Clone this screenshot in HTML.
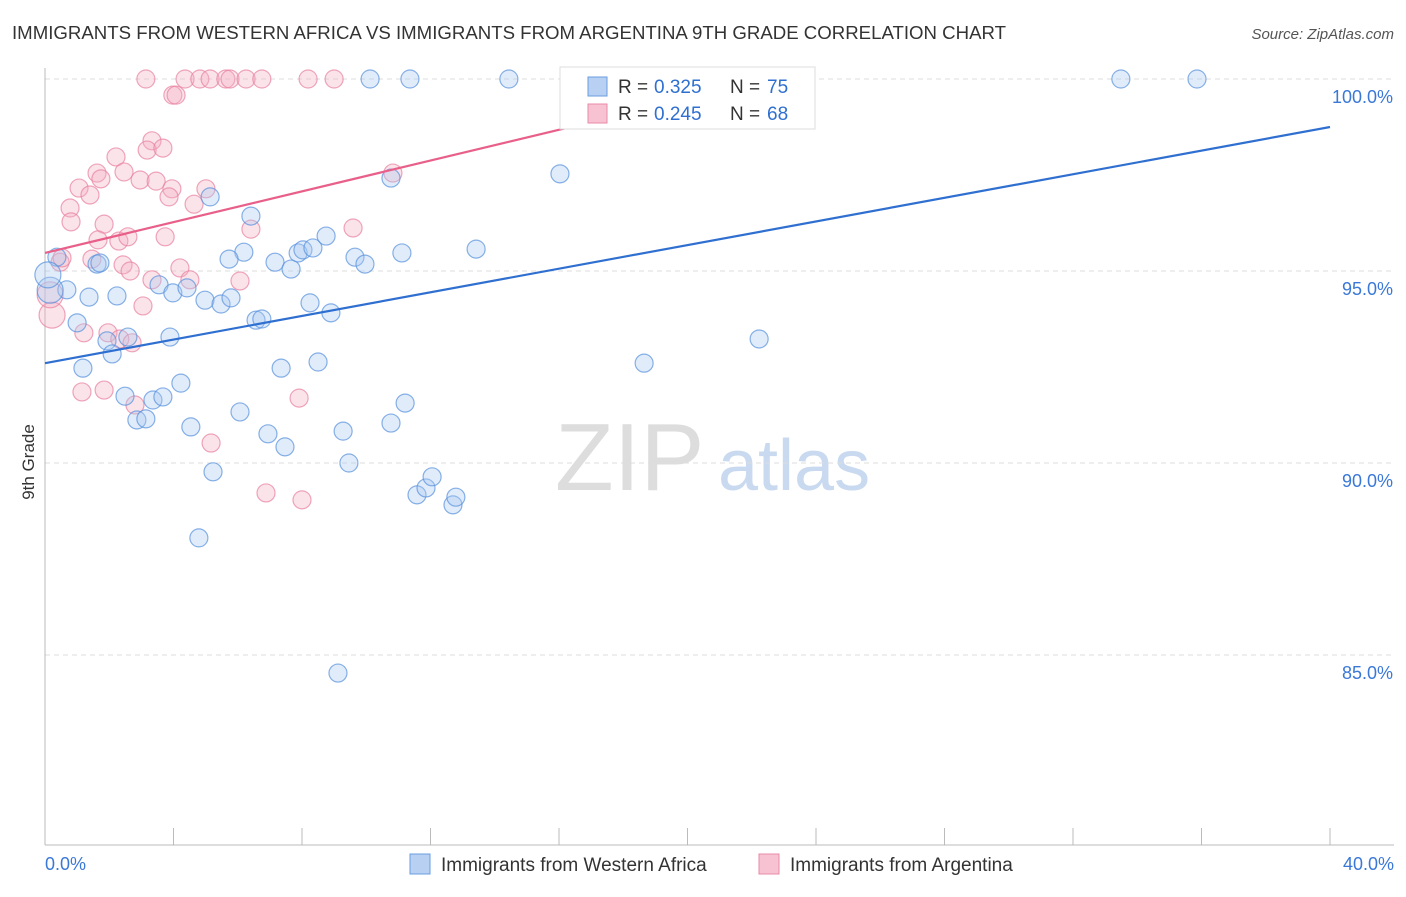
<!DOCTYPE html>
<html><head><meta charset="utf-8"><style>
body{margin:0;background:#fff;font-family:"Liberation Sans",sans-serif}
svg text{font-family:"Liberation Sans",sans-serif}
</style></head><body>
<svg id="chart" width="1406" height="892">
<text x="12" y="39" font-size="18" fill="#333" textLength="994" lengthAdjust="spacingAndGlyphs">IMMIGRANTS FROM WESTERN AFRICA VS IMMIGRANTS FROM ARGENTINA 9TH GRADE CORRELATION CHART</text>
<text x="1394" y="39" font-size="15" fill="#555" font-style="italic" text-anchor="end">Source: ZipAtlas.com</text>
<text x="34" y="462" font-size="17" fill="#333" text-anchor="middle" transform="rotate(-90 34 462)">9th Grade</text>
<text x="555" y="490" font-size="96" fill="#ddd" font-family="Liberation Serif">ZIP</text>
<text x="718" y="490" font-size="72" fill="#c9daf0">atlas</text>
<g id="grid"></g><g id="pts"></g><g id="lines"></g>
<g>
<rect x="560" y="67" width="255" height="62" fill="#fff" stroke="#ddd"/>
<rect x="588" y="77" width="19" height="19" fill="#b8d0f2" stroke="#6a9de0"/>
<text x="618" y="93" font-size="19" fill="#333">R =</text>
<text x="654" y="93" font-size="19" fill="#2f6fd0">0.325</text>
<text x="730" y="93" font-size="19" fill="#333">N =</text>
<text x="767" y="93" font-size="19" fill="#2f6fd0">75</text>
<rect x="588" y="104" width="19" height="19" fill="#f7c3d2" stroke="#e88aa8"/>
<text x="618" y="120" font-size="19" fill="#333">R =</text>
<text x="654" y="120" font-size="19" fill="#2f6fd0">0.245</text>
<text x="730" y="120" font-size="19" fill="#333">N =</text>
<text x="767" y="120" font-size="19" fill="#2f6fd0">68</text>
</g>
<g>
<rect x="410" y="854" width="20" height="20" fill="#b8d0f2" stroke="#6a9de0"/>
<text x="441" y="871" font-size="19" fill="#333">Immigrants from Western Africa</text>
<rect x="759" y="854" width="20" height="20" fill="#f7c3d2" stroke="#e88aa8"/>
<text x="790" y="871" font-size="19" fill="#333">Immigrants from Argentina</text>
</g>
<text x="45" y="870" font-size="18" fill="#3a78d8">0.0%</text>
<text x="1394" y="870" font-size="18" fill="#3a78d8" text-anchor="end">40.0%</text>
</svg>
<script>
const yTicks=[100,95,90,85];
const xTicks=[0,4,8,12,16,20,24,28,32,36,40];
const blueX=[0.37,1.62,1.71,0.68,1.37,2.24,1.0,1.93,2.09,1.18,2.58,3.89,2.49,3.36,3.67,4.23,2.86,3.14,4.54,5.23,4.79,3.55,3.98,4.42,4.98,5.48,5.79,5.14,6.41,6.19,5.73,6.57,6.75,7.16,7.66,7.88,8.03,8.34,8.75,8.25,8.90,9.65,9.96,11.11,13.42,7.35,8.50,6.07,6.94,7.47,9.28,9.46,10.77,11.21,11.58,11.86,12.05,12.70,12.79,9.12,10.77,16.03,18.65,22.23,10.12,11.36,14.44,16.65,33.49,35.86,0.16,0.09];
const blueY=[95.36,95.18,95.21,94.51,94.32,94.35,93.65,93.18,92.84,92.47,93.28,93.28,91.74,91.64,91.72,92.08,91.12,91.15,90.94,89.77,88.05,94.64,94.43,94.56,94.24,94.14,94.30,96.93,96.43,95.49,95.31,93.72,93.75,95.23,95.05,95.47,95.55,95.60,95.91,94.17,93.91,95.36,95.18,95.47,95.57,92.47,92.63,91.33,90.76,90.42,90.83,90.0,91.04,91.56,89.17,89.35,89.64,88.91,89.11,84.53,97.42,97.53,92.6,93.23,100,100,100,100,100,100,94.5,94.9];
const pinkX=[3.14,4.36,4.82,5.14,5.63,5.76,6.26,6.75,8.19,9.0,3.98,4.08,3.33,3.18,3.67,2.21,1.62,2.46,1.74,2.96,3.46,3.95,5.01,1.06,1.40,3.86,4.64,0.78,0.81,1.84,3.74,1.65,2.30,2.58,6.41,9.59,10.83,0.47,1.46,2.43,2.65,4.20,3.33,4.51,6.07,3.05,1.96,2.33,2.71,1.84,1.15,2.80,7.91,5.17,6.88,8.0,0.53,1.21,0.22,0.16];
const pinkY=[100,100,100,100,100,100,100,100,100,100,99.58,99.58,98.39,98.15,98.2,97.97,97.55,97.58,97.4,97.37,97.34,97.14,97.14,97.16,96.98,96.93,96.74,96.64,96.28,96.22,95.89,95.81,95.78,95.89,96.09,96.12,97.55,95.23,95.31,95.16,95.0,95.08,94.77,94.77,94.74,94.09,93.39,93.23,93.13,91.9,91.85,91.51,91.69,90.52,89.22,89.04,95.34,93.39,93.85,94.38];
const blueLine=[[0,92.6],[40,98.75]];
const pinkLine=[[0,95.47],[20.4,99.56]];
const NS='http://www.w3.org/2000/svg';
const sx=v=>45+v/40*1285, sy=v=>79+(100-v)*38.4;
function mk(t,a,p){const e=document.createElementNS(NS,t);for(const k in a)e.setAttribute(k,a[k]);p.appendChild(e);return e;}
const grid=document.getElementById('grid');
yTicks.forEach(t=>{
 const l=mk('line',{x1:45,x2:1394,y1:sy(t),y2:sy(t),stroke:'#ddd','stroke-dasharray':'5,4'},grid);
 
 
 const tx=mk('text',{x:1393,y:sy(t)+24,'font-size':18,fill:'#3a78d8','text-anchor':'end'},grid);
 tx.textContent=t.toFixed(1)+'%';
 
 
});
const ax=mk('line',{x1:45,x2:1394,y1:845,y2:845,stroke:'#bbb'},grid);


const ay=mk('line',{x1:45,x2:45,y1:68,y2:845,stroke:'#bbb'},grid);


xTicks.forEach(t=>{
 const l=mk('line',{x1:sx(t),x2:sx(t),y1:828,y2:845,stroke:'#bbb'},grid);
 
 
});
const pts=document.getElementById('pts');
function draw(X,Y,fill,stroke,name){
 X.forEach((x,i)=>{
  const big=x<0.4&&i>=X.length-2;
  const c=mk('circle',{cx:sx(x),cy:sy(Y[i]),r:big?13:9,fill:fill,'fill-opacity':0.35,stroke:stroke,'stroke-opacity':0.7,'stroke-width':1.2},pts);
  
  
 });
}
draw(pinkX,pinkY,'#f4aec3','#e8809f','point-argentina');
draw(blueX,blueY,'#a9c8f0','#5590dd','point-western-africa');
const lines=document.getElementById('lines');
const bl=mk('line',{x1:sx(blueLine[0][0]),y1:sy(blueLine[0][1]),x2:sx(blueLine[1][0]),y2:sy(blueLine[1][1]),stroke:'#2f6fd0','stroke-width':2.2},lines);


const pl=mk('line',{x1:sx(pinkLine[0][0]),y1:sy(pinkLine[0][1]),x2:sx(pinkLine[1][0]),y2:sy(pinkLine[1][1]),stroke:'#e8608a','stroke-width':2.2},lines);


</script>
</body></html>
